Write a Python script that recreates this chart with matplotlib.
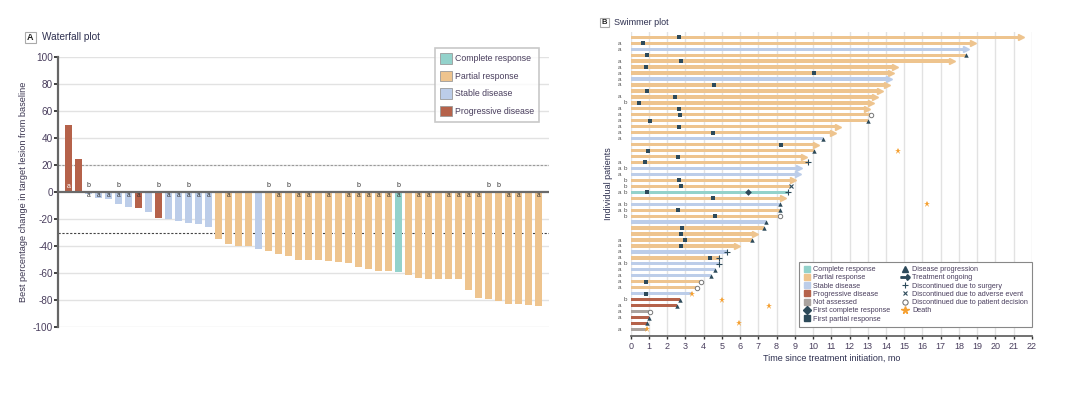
import numpy as np
import matplotlib
matplotlib.use("Agg")
import matplotlib.pyplot as plt
from matplotlib.patches import Patch, Rectangle
from matplotlib.lines import Line2D

plt.rcParams["font.family"] = ["Liberation Sans Narrow", "Liberation Sans", "DejaVu Sans"]
plt.rcParams["axes.unicode_minus"] = False

# ---------------- colours ----------------
COL = {"CR": "#93d2cb", "PR": "#eec48e", "SD": "#bccde9", "PD": "#b5624a", "NA": "#aaa39f"}
DARK = "#2d4a5a"
STAR = "#f5a031"
TXT = "#4a3f5e"

# ---------------- waterfall data ----------------
wf_values = [50, 25, -1, -4.4, -5.2, -8.9, -10.9, -11.9, -14.6, -18.8, -20, -21, -22.5, -23.7, -25.7,
             -34.8, -38.5, -39.5, -39.5, -42, -43.7, -45.7, -46.9, -49.9, -49.9, -49.9, -50.9, -51.9,
             -52.6, -55.6, -56.8, -58.3, -58.3, -59.3, -61.2, -63.5, -64.4, -64.4, -64.4, -64.4,
             -72.1, -78.5, -79.3, -80.7, -82.5, -82.7, -83.5, -84.4]
wf_status = ["PD", "PD", "SD", "SD", "SD", "SD", "SD", "PD", "SD", "PD", "SD", "SD", "SD", "SD", "SD",
             "PR", "PR", "PR", "PR", "SD", "PR", "PR", "PR", "PR", "PR", "PR", "PR", "PR",
             "PR", "PR", "PR", "PR", "PR", "CR", "PR", "PR", "PR", "PR", "PR", "PR",
             "PR", "PR", "PR", "PR", "PR", "PR", "PR", "PR"]
wf_a = [2, 3, 4, 5, 6, 7, 10, 11, 12, 13, 14, 16, 21, 23, 24, 26, 28, 29, 30, 31, 32, 33,
        35, 36, 38, 39, 40, 41, 44, 45, 47]
wf_b = [2, 5, 9, 12, 20, 22, 29, 33, 42, 43]
wf_yticks = list(range(-100, 101, 20))

# ---------------- swimmer data (top row first) ----------------
sw_status = ["PR", "PR", "SD", "PR", "PR", "PR", "PR", "SD", "PR", "PR",
             "PR", "PR", "PR", "PR", "PR", "PR", "PR", "SD", "PR", "PR",
             "PR", "PR", "SD", "SD", "PR", "PR", "CR", "PR", "SD", "PR",
             "PR", "SD", "PR", "PR", "PR", "PR", "SD", "PR", "SD", "SD",
             "SD", "PR", "PR", "SD", "PD", "PD", "NA", "PD", "PD", "NA"]
sw_end = [21.5, 18.9, 18.5, 18.4, 17.75, 14.6, 14.4, 14.3, 14.2, 13.8,
          13.5, 13.3, 13.1, 13.2, 13.0, 11.5, 11.2, 10.57, 10.27, 10.04,
          9.6, 9.7, 9.34, 9.29, 9.03, 8.8, 8.65, 8.45, 8.2, 8.17,
          8.2, 7.44, 7.3, 6.93, 6.64, 5.96, 5.3, 4.84, 4.84, 4.64,
          4.42, 3.84, 3.66, 3.36, 2.72, 2.54, 1.06, 1.0, 0.88, 0.88]
# end event: arrow=ongoing, prog, surg, adv, dec, none
sw_event = ["arrow", "arrow", "arrow", "prog", "arrow", "arrow", "arrow", "arrow", "arrow", "arrow",
            "arrow", "arrow", "arrow", "dec", "prog", "arrow", "arrow", "prog", "arrow", "prog",
            "arrow", "surg", "arrow", "arrow", "arrow", "adv", "surg", "arrow", "prog", "prog",
            "dec", "prog", "prog", "arrow", "prog", "arrow", "surg", "surg", "surg", "prog",
            "prog", "dec", "dec", "none", "prog", "prog", "dec", "prog", "prog", "none"]
sw_first_pr = [2.63, 0.66, None, 0.9, 2.74, 0.84, 10.05, None, 4.55, 0.9,
               2.43, 0.48, 2.67, 2.7, 1.06, 2.63, 4.5, None, 8.23, 0.93,
               2.6, 0.8, None, None, 2.67, 2.78, 0.9, 4.5, None, 2.58,
               4.64, None, 2.8, 2.74, 3.0, 2.78, None, 4.37, None, None,
               None, 0.84, None, 0.86, None, None, None, None, None, None]
sw_first_cr = {27: 6.43}
sw_death = {20: 14.64, 29: 16.25, 44: 3.36, 45: 5.0, 46: 7.6, 49: 5.96, 50: 0.88}
sw_labels = {2: "a", 3: "a", 5: "a", 6: "a", 7: "a", 8: "a", 9: "a", 11: "a", 12: "b", 13: "a",
             14: "a", 15: "a", 16: "a", 17: "a", 18: "a", 22: "a", 23: "ab", 24: "a", 25: "b",
             26: "b", 27: "ab", 29: "ab", 30: "ab", 31: "b", 35: "a", 36: "a", 37: "a", 38: "a",
             39: "ab", 40: "a", 41: "a", 42: "a", 43: "a", 45: "b", 46: "a", 47: "a", 48: "a", 50: "a"}

fig = plt.figure(figsize=(10.8, 3.96), dpi=100)

# ================= Panel A: waterfall =================
ax = fig.add_axes([0.054, 0.1735, 0.4544, 0.6818])
x = np.arange(len(wf_values))
ax.bar(x, wf_values, width=0.68, color=[COL[s] for s in wf_status], zorder=3)
for yv in wf_yticks:
    if yv != 0:
        ax.axhline(yv, color="#e2e2e2", lw=1.0, zorder=1)
ax.axhline(20, color="#9a9a9a", lw=0.8, ls=(0, (2, 1.5)), zorder=2)
ax.axhline(-30, color="#444444", lw=0.8, ls=(0, (2, 1.5)), zorder=2)
ax.axhline(0, color="#6a6a6a", lw=1.6, zorder=4)
ax.set_xlim(-1.0, 48.07)
ax.set_ylim(-100, 100)
ax.set_yticks(wf_yticks)
ax.set_yticklabels([str(v) for v in wf_yticks], fontsize=7.2, color=TXT)
ax.tick_params(axis="y", direction="out", length=3, width=1.3, color="#333333", pad=1)
ax.set_xticks([])
for sp in ["top", "right", "bottom"]:
    ax.spines[sp].set_visible(False)
ax.spines["left"].set_color("#666666")
ax.spines["left"].set_linewidth(1.6)
ax.set_ylabel("Best percentage change in target lesion from baseline", fontsize=6.6,
              color="#3a3550", labelpad=3)
ax.text(0, 4, "a", color="white", fontsize=5, ha="center", va="center", zorder=5)
for i in wf_a:
    ax.text(i, -2.6, "a", color="#333333", fontsize=4.8, ha="center", va="center", zorder=5)
for i in wf_b:
    ax.text(i, 5.2, "b", color="#333333", fontsize=5, ha="center", va="center", zorder=5)

wf_handles = [Patch(facecolor=COL[k], edgecolor="#9a9a9a", lw=0.6, label=l) for k, l in
              [("CR", "Complete response"), ("PR", "Partial response"),
               ("SD", "Stable disease"), ("PD", "Progressive disease")]]
leg = fig.legend(handles=wf_handles, loc="upper left", bbox_to_anchor=(435 / 1080, 1 - 48 / 396),
                 borderaxespad=0, fontsize=6.3, frameon=True, fancybox=False, handlelength=1.3,
                 handleheight=1.5, handletextpad=0.35, labelspacing=0.78, borderpad=0.6,
                 labelcolor=TXT)
leg.get_frame().set_edgecolor("#bbbbbb")
leg.get_frame().set_linewidth(1.2)

fig.patches.append(Rectangle((25 / 1080, 1 - 43 / 396), 11 / 1080, 11 / 396, transform=fig.transFigure,
                             fill=False, edgecolor="#aaaaaa", lw=0.8))
fig.text(30.5 / 1080, 1 - 37.5 / 396, "A", fontsize=6.5, ha="center", va="center", color="#222222",
         weight="bold")
fig.text(42 / 1080, 1 - 37.5 / 396, "Waterfall plot", fontsize=7.2, ha="left", va="center",
         color="#2e3050")

# ================= Panel B: swimmer =================
bx = fig.add_axes([0.584, 0.1515, 0.3714, 0.7685])
rows = np.arange(1, len(sw_end) + 1)
for k in range(23):
    bx.axvline(k, color="#e2e2e2", lw=1.0, zorder=1)
for r, st, end, ev in zip(rows, sw_status, sw_end, sw_event):
    c = COL[st]
    if ev == "arrow":
        bx.barh(r, end - 0.12, height=0.55, color=c, zorder=2)
        bx.plot(end - 0.12, r, marker=">", ms=4.2, color=c, mec=c, zorder=2)
    else:
        bx.barh(r, end, height=0.55, color=c, zorder=2)
        if ev == "prog":
            bx.plot(end, r, marker="^", ms=3.2, color=DARK, mew=0, zorder=4)
        elif ev == "surg":
            bx.plot(end, r, marker="+", ms=4, color=DARK, mew=0.8, zorder=4)
        elif ev == "adv":
            bx.plot(end, r, marker="x", ms=3.2, color=DARK, mew=0.8, zorder=4)
        elif ev == "dec":
            bx.plot(end, r, marker="o", ms=3.2, mfc="white", mec="#777777", mew=0.7, zorder=4)
for r, v in zip(rows, sw_first_pr):
    if v is not None:
        bx.plot(v, r, marker="s", ms=3.0, color=DARK, mew=0, zorder=4)
for r, v in sw_first_cr.items():
    bx.plot(v, r, marker="D", ms=3.4, color=DARK, mew=0, zorder=4)
for r, v in sw_death.items():
    bx.plot(v, r, marker="*", ms=5, color=STAR, mew=0, zorder=5)
for r, lab in sw_labels.items():
    if "a" in lab:
        bx.text(-0.027, r, "a", transform=bx.get_yaxis_transform(), fontsize=4.5, color="#555555",
                ha="center", va="center")
    if "b" in lab:
        bx.text(-0.013, r, "b", transform=bx.get_yaxis_transform(), fontsize=4.5, color="#555555",
                ha="center", va="center")

bx.set_xlim(0, 22)
bx.set_ylim(51.1, 0.06)
bx.set_xticks(range(23))
bx.set_xticklabels([str(k) for k in range(23)], fontsize=6.5, color=TXT)
bx.tick_params(axis="x", direction="out", length=2.5, width=1, color="#333333", pad=1.5)
bx.set_yticks([])
for sp in ["top", "right", "left"]:
    bx.spines[sp].set_visible(False)
bx.spines["bottom"].set_color("#666666")
bx.spines["bottom"].set_linewidth(1.3)
bx.set_xlabel("Time since treatment initiation, mo", fontsize=6.5, color="#2e3050", labelpad=2)
bx.set_ylabel("Individual patients", fontsize=6.5, color="#2e3050", labelpad=13)

sw_handles = [
    Line2D([], [], ls="", marker="s", ms=4.5, color=COL["CR"], label="Complete response"),
    Line2D([], [], ls="", marker="s", ms=4.5, color=COL["PR"], label="Partial response"),
    Line2D([], [], ls="", marker="s", ms=4.5, color=COL["SD"], label="Stable disease"),
    Line2D([], [], ls="", marker="s", ms=4.5, color=COL["PD"], label="Progressive disease"),
    Line2D([], [], ls="", marker="s", ms=4.5, color=COL["NA"], label="Not assessed"),
    Line2D([], [], ls="", marker="D", ms=3.6, color=DARK, label="First complete response"),
    Line2D([], [], ls="", marker="s", ms=4.5, color=DARK, label="First partial response"),
    Line2D([], [], ls="", marker="^", ms=4.2, color=DARK, label="Disease progression"),
    Line2D([], [], ls="", marker=r"$\mathbf{\rightarrow}$", ms=6.5, color=DARK, label="Treatment ongoing"),
    Line2D([], [], ls="", marker="+", ms=3.8, mew=0.8, color=DARK, label="Discontinued due to surgery"),
    Line2D([], [], ls="", marker="x", ms=3.2, mew=0.8, color=DARK, label="Discontinued due to adverse event"),
    Line2D([], [], ls="", marker="o", ms=3.8, mfc="white", mec="#666666", mew=0.7,
           label="Discontinued due to patient decision"),
    Line2D([], [], ls="", marker="*", ms=5.5, color=STAR, label="Death"),
]
leg2 = fig.legend(handles=sw_handles, loc="upper left", bbox_to_anchor=(799 / 1080, 1 - 262 / 396),
                  borderaxespad=0, ncol=2, fontsize=5.2, frameon=True, fancybox=False, handlelength=1.0,
                  handletextpad=0.4, labelspacing=0.17, borderpad=0.55, columnspacing=1.6,
                  labelcolor=TXT, facecolor="white", framealpha=1)
leg2.get_frame().set_edgecolor("#888888")
leg2.get_frame().set_linewidth(0.8)

fig.patches.append(Rectangle((600 / 1080, 1 - 27 / 396), 9 / 1080, 9 / 396, transform=fig.transFigure,
                             fill=False, edgecolor="#aaaaaa", lw=0.8))
fig.text(604.5 / 1080, 1 - 22.5 / 396, "B", fontsize=5.5, ha="center", va="center", color="#222222",
         weight="bold")
fig.text(614 / 1080, 1 - 22.5 / 396, "Swimmer plot", fontsize=6.5, ha="left", va="center",
         color="#2e3050")

fig.savefig("out.png", dpi=100)
